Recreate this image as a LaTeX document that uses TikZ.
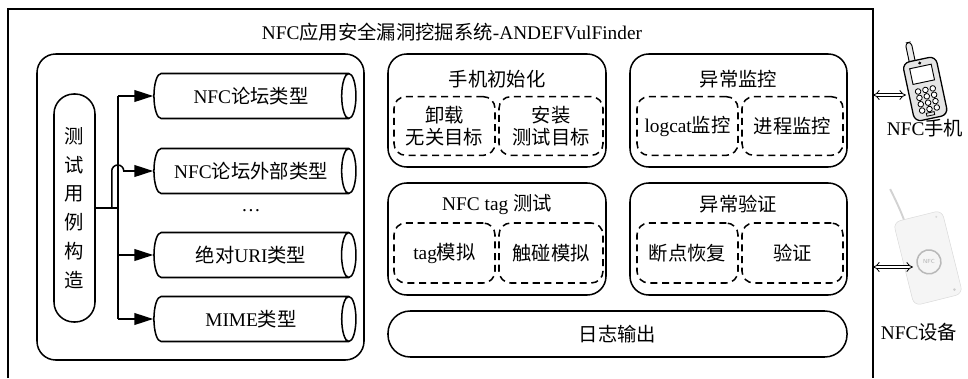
\documentclass[tikz,border=0pt]{standalone}
\usepackage{fontspec}
\setmainfont{Liberation Serif}
\newfontfamily\cjk{Noto Sans CJK SC}
\newcommand{\zh}[1]{{\cjk #1}}
\usepackage{tikz}
\usetikzlibrary{arrows.meta, shapes.geometric, positioning, calc}

\tikzset{
  panel/.style={draw, line width=1.3pt, rounded corners=16pt, inner sep=0pt},
  subbox/.style={draw, line width=1.3pt, dash pattern=on 6pt off 4pt,
    rounded corners=10pt, inner sep=0pt, minimum width=3.03cm,
    minimum height=1.76cm, align=center},
  tube/.style={cylinder, draw, line width=1.3pt, shape aspect=0.8,
    minimum height=6.06cm, minimum width=1.35cm, inner sep=0pt},
  feed/.style={line width=1.3pt, -{Triangle[length=16pt, width=10pt]}},
  link/.style={double, double distance=2.2pt, line width=0.7pt, {Implies}-{Implies}},
}

\begin{document}
\begin{tikzpicture}[x=0.03cm, y=0.03cm, font=\fontsize{16.5}{19}\selectfont]
  \useasboundingbox[fill=white] (0,0) rectangle (968,378);

  % system frame, open at the bottom
  \draw[line width=1.1pt] (8,0) -- (8,369) -- (873,369) -- (873,0);
  \node (title) at (452,346) {NFC\zh{应用安全漏洞挖掘系统}-ANDEFVulFinder};

  % test case construction
  \node[panel, minimum width=9.81cm, minimum height=9.18cm] (gen) at (200.5,171) {};
  \node[draw, line width=1.3pt, rounded corners=17pt, minimum width=1.23cm,
        minimum height=6.84cm, inner sep=0pt, align=center,
        font=\cjk\fontsize{16.5}{24.5}\selectfont] (cons) at (74.5,170)
        {测\\试\\用\\例\\构\\造};

  \node[tube] (t1) at (251,282) {NFC\zh{论坛类型}};
  \node[tube] (t2) at (251,207) {NFC\zh{论坛外部类型}};
  \node (dots) at (251,167) {\dots};
  \node[tube] (t3) at (251,123) {\zh{绝对}URI\zh{类型}};
  \node[tube] (t4) at (251,59) {MIME\zh{类型}};

  \coordinate (trunk) at ($(cons.east)+(22,0)$);
  \coordinate (fork) at ($(cons.east)+(16,0)$);
  \draw[line width=1.3pt] (cons.east) -- (trunk);
  \draw[line width=1.3pt] (trunk |- t4) -- (trunk |- t1);
  \foreach \t in {t1,t3,t4}
    \draw[feed] (trunk |- \t) -- (\t.west);
  % second branch hops over the trunk
  \draw[feed] (fork) -- (fork |- t2) arc[start angle=180, end angle=0, radius=6] -- (t2.west);

  % modules
  \node[panel, minimum width=6.54cm, minimum height=3.39cm] (init) at (497,267.5) {};
  \node[panel, minimum width=6.51cm, minimum height=3.39cm] (monitor) at (738.5,267.5) {};
  \node[panel, minimum width=6.54cm, minimum height=3.36cm] (tagtest) at (497,139) {};
  \node[panel, minimum width=6.51cm, minimum height=3.36cm] (verify) at (738.5,139) {};
  \node[draw, line width=1.3pt, rounded corners=19pt, minimum width=13.77cm,
        minimum height=1.38cm, inner sep=0pt] (logout) at (617.5,44) {\zh{日志输出}};

  \node at ($(init.north)+(0,-26)$) {\zh{手机初始化}};
  \node at ($(monitor.north)+(0,-26)$) {\zh{异常监控}};
  \node at ($(tagtest.north)+(0,-22)$) {NFC tag \zh{测试}};
  \node at ($(verify.north)+(0,-22)$) {\zh{异常验证}};

  \node[subbox] (uninst) at (444.5,252) {\zh{卸载}\\\zh{无关目标}};
  \node[subbox, minimum width=3.12cm] (inst) at (551,252) {\zh{安装}\\\zh{测试目标}};
  \node[subbox] (logcat) at (687.5,252) {logcat\zh{监控}};
  \node[subbox] (proc) at (792.5,252) {\zh{进程监控}};
  \node[subbox, minimum height=1.8cm] (tagsim) at (444.5,125) {tag\zh{模拟}};
  \node[subbox, minimum height=1.8cm, minimum width=3.12cm] (touch) at (551,125) {\zh{触碰模拟}};
  \node[subbox, minimum height=1.8cm] (resume) at (687.5,125) {\zh{断点恢复}};
  \node[subbox, minimum height=1.8cm] (check) at (792.5,125) {\zh{验证}};

  % NFC phone
  \begin{scope}[shift={(925,290)}, rotate=12]
    \draw[line width=0.8pt, fill=gray!15, rounded corners=3pt] (-10,26) rectangle (-4,48);
    \draw[line width=1.1pt, fill=gray!20, rounded corners=6pt] (-17,-31) rectangle (17,29);
    \draw[line width=0.8pt, fill=white] (-11,6) rectangle (11,22);
    \fill (0,25.5) circle (1.6);
    \foreach \r in {0,...,3}
      \foreach \c in {-1,0,1}
        \draw[line width=0.7pt, fill=white] (\c*7.5,-2-\r*6.5) circle (2.8);
    \draw[line width=0.7pt] (-4,-28) rectangle (4,-25);
  \end{scope}

  % NFC reader
  \begin{scope}[shift={(928,120)}, rotate=14]
    \draw[gray!35, line width=1.6pt] (-14,42) .. controls (-15,52) and (-17,62) .. (-20,76);
    \draw[gray!30, fill=gray!8, rounded corners=6pt] (-25,-43) rectangle (25,43);
    \draw[gray!55, line width=1.3pt] (0,-4) circle (12);
    \node[gray!60, font=\sffamily\fontsize{5}{5}\selectfont] at (0,-4) {NFC};
    \fill[gray!40] (18,-37) circle (1.4);
    \fill[gray!30] (18,38) circle (1.1);
  \end{scope}

  \node (phonelbl) at (925,250) {NFC\zh{手机}};
  \node (devlbl) at (919,46) {NFC\zh{设备}};

  \coordinate (frameA) at (873,283);
  \coordinate (frameB) at (873,111);
  \coordinate (phone) at (906,283);
  \coordinate (reader) at (913,111);
  \draw[link] (frameA) -- (phone);
  \draw[link] (frameB) -- (reader);
\end{tikzpicture}
\end{document}
